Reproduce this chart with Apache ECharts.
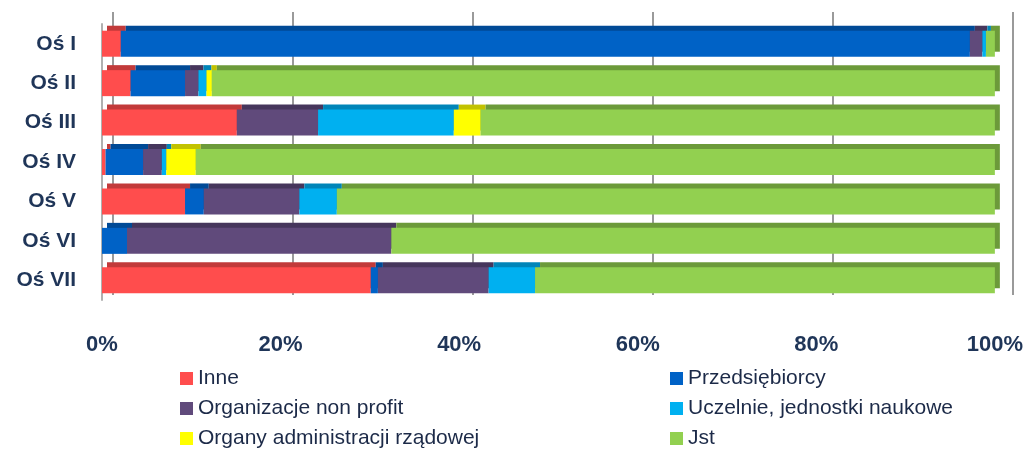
<!DOCTYPE html>
<html>
<head>
<meta charset="utf-8">
<script src="https://cdn.jsdelivr.net/npm/echarts@6/dist/echarts.min.js"></script>
<style>
  html, body { margin: 0; padding: 0; background: #fff; }
  #chart { width: 1026px; height: 450px; }
</style>
</head>
<body>
<div id="chart"></div>
<script>
// categories (top to bottom)
const categories = ['Oś I', 'Oś II', 'Oś III', 'Oś IV', 'Oś V', 'Oś VI', 'Oś VII']
const xTicks = [0, 20, 40, 60, 80, 100]

// share in % per category
const inne = [2.1, 3.2, 15.1, 0.4, 9.3, 0, 30.1]
const przedsiebiorcy = [95.1, 6.1, 0, 4.2, 2.1, 2.8, 0.8]
const organizacje = [1.4, 1.5, 9.1, 2.1, 10.7, 29.6, 12.4]
const uczelnie = [0.4, 0.9, 15.2, 0.5, 4.2, 0, 5.2]
const organy = [0, 0.6, 3.0, 3.3, 0, 0, 0]
const jst = [1.0, 87.7, 57.6, 89.5, 73.7, 67.6, 51.5]

const names = ['Inne', 'Przedsiębiorcy', 'Organizacje non profit', 'Uczelnie, jednostki naukowe', 'Organy administracji rządowej', 'Jst']
const values = [inne, przedsiebiorcy, organizacje, uczelnie, organy, jst]
const colors = ['#FF4D4D', '#0062C6', '#604A7B', '#00B0F0', '#FFFF00', '#92D050']
const topColors = ['#C23A3A', '#004A96', '#46365C', '#0085B8', '#C2C200', '#6C9A3A']

const navy = '#1F3558'
const font = 'Liberation Sans, Arial, sans-serif'

const chart = echarts.init(document.getElementById('chart'), null, { renderer: 'canvas' })

const series = names.map((name, i) => ({
  name: name,
  type: 'bar',
  stack: 'total',
  xAxisIndex: 0,
  yAxisIndex: 0,
  barWidth: 26,
  data: values[i],
  // offset shadow fakes the 3d top / side face
  itemStyle: {
    color: colors[i],
    shadowColor: topColors[i],
    shadowBlur: 0,
    shadowOffsetX: 5,
    shadowOffsetY: -5
  },
  emphasis: { disabled: true },
  animation: false
}))

function legendCol(left, items) {
  return {
    orient: 'vertical',
    left: left,
    top: 368,
    height: 90,
    padding: 0,
    itemWidth: 13,
    itemHeight: 13,
    itemGap: 9,
    icon: 'rect',
    data: items,
    textStyle: { color: '#1c2a48', fontSize: 21, lineHeight: 21, fontFamily: font },
    selectedMode: false
  }
}

chart.setOption({
  animation: false,
  grid: [
    { left: 102, right: 27, top: 24, bottom: 150 },
    { left: 113, right: 13, top: 12, bottom: 155 }
  ],
  xAxis: [
    {
      gridIndex: 0,
      type: 'value',
      min: 0,
      max: 100,
      interval: 20,
      axisLine: { show: false },
      axisTick: { show: false },
      splitLine: { show: false },
      axisLabel: {
        formatter: v => xTicks.includes(v) ? v + '%' : '',
        color: navy,
        fontSize: 22,
        fontWeight: 'bold',
        fontFamily: font,
        margin: 34
      }
    },
    {
      gridIndex: 1,
      type: 'value',
      min: 0,
      max: 100,
      interval: 20,
      axisLine: { show: false },
      axisTick: { show: false },
      axisLabel: { show: false },
      splitLine: { show: true, lineStyle: { color: '#9a9a9a', width: 2 } }
    }
  ],
  yAxis: [
    {
      gridIndex: 0,
      type: 'category',
      inverse: true,
      data: categories,
      offset: 6,
      axisLine: { show: true, lineStyle: { color: '#b0b0b0', width: 2 } },
      axisTick: { show: false },
      axisLabel: {
        color: navy,
        fontSize: 21,
        fontWeight: 'bold',
        fontFamily: font,
        margin: 20
      }
    },
    {
      gridIndex: 1,
      type: 'category',
      inverse: true,
      data: categories,
      axisLine: { show: false },
      axisTick: { show: false },
      axisLabel: { show: false }
    }
  ],
  legend: [
    legendCol(180, [names[0], names[2], names[4]]),
    legendCol(670, [names[1], names[3], names[5]])
  ],
  series: series
})
</script>
</body>
</html>
